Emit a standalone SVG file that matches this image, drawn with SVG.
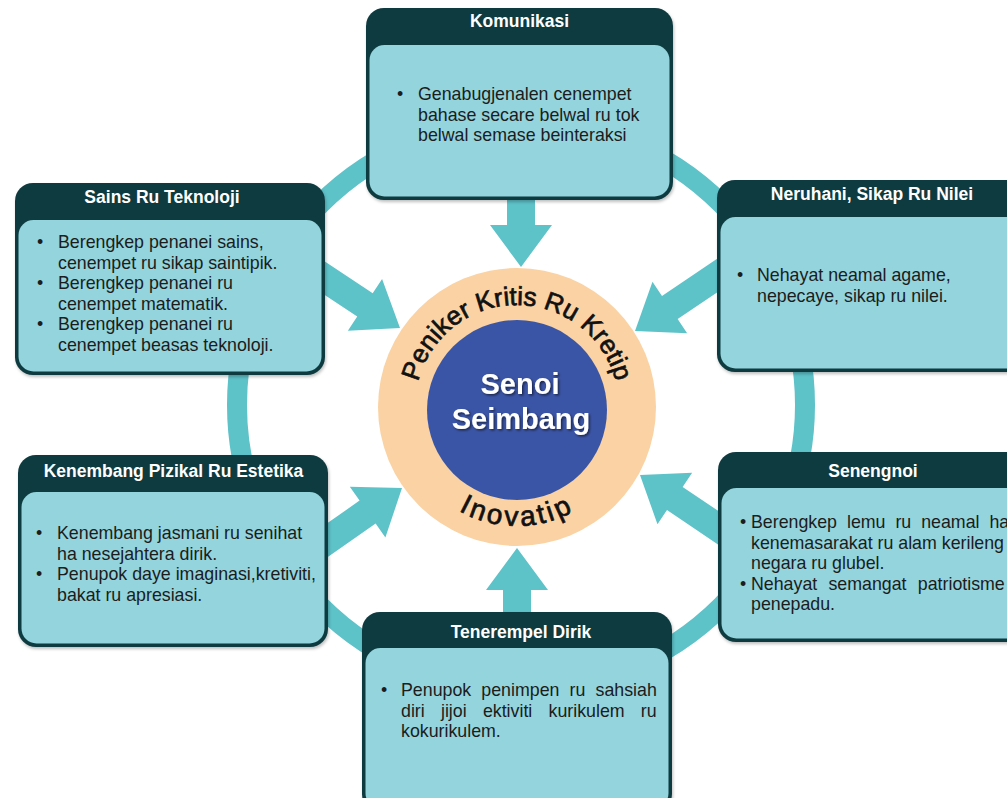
<svg xmlns="http://www.w3.org/2000/svg" width="1007" height="798" viewBox="0 0 1007 798">
  <defs>
    <style>
      .hdr { fill: #0f3a3f; }
      .bdy { fill: #93d4dd; }
      .teal { fill: #5ec2c9; }
      .ttl { font-family: "Liberation Sans", Arial, sans-serif; font-weight: bold; font-size: 17.5px; fill: #ffffff; text-anchor: middle; }
      .txt { font-family: "Liberation Sans", Arial, sans-serif; font-size: 17.8px; fill: #1c1c1c; }
      .arc { font-family: "Liberation Sans", Arial, sans-serif; fill: #111111; stroke: #111111; stroke-width: 0.7; }
      .ctr { font-family: "Liberation Sans", Arial, sans-serif; font-weight: bold; font-size: 29px; fill: #ffffff; text-anchor: middle; }
    </style>
    <path id="arrowShape" d="M 0 0 L -42 -31 L -42 -14 L -120 -14 L -120 14 L -42 14 L -42 31 Z"/>
    <path id="arcTop" d="M 415 407 A 102 102 0 0 1 619 407"/>
    <path id="arcBot" d="M 398 407 A 119 119 0 0 0 636 407"/>
    <filter id="boxShadow" x="-5%" y="-5%" width="112%" height="115%">
      <feDropShadow dx="1" dy="2" stdDeviation="1.5" flood-color="#000" flood-opacity="0.25"/>
    </filter>
    <filter id="txtShadow" x="-10%" y="-20%" width="130%" height="150%">
      <feDropShadow dx="1.5" dy="1.5" stdDeviation="1" flood-color="#000" flood-opacity="0.55"/>
    </filter>
  </defs>

  <rect x="0" y="0" width="1007" height="798" fill="#ffffff"/>

  <!-- connectors: ring and arrows -->
  <g id="connectors">
    <circle cx="521" cy="405" r="284" fill="none" stroke="#5ec2c9" stroke-width="20"/>
    <use href="#arrowShape" class="teal" transform="translate(521,267) rotate(90)"/>
    <use href="#arrowShape" class="teal" transform="translate(517,548) rotate(-90)"/>
    <use href="#arrowShape" class="teal" transform="translate(400,328) rotate(33.5)"/>
    <use href="#arrowShape" class="teal" transform="translate(635,331) rotate(146)"/>
    <use href="#arrowShape" class="teal" transform="translate(402,488) rotate(-35)"/>
    <use href="#arrowShape" class="teal" transform="translate(640,475) rotate(-146)"/>
  </g>

  <!-- center node -->
  <g id="center">
    <circle cx="517" cy="407" r="139" fill="#fad2a3"/>
    <circle cx="517" cy="410" r="90" fill="#3b55a6"/>
    <text class="arc" font-size="26"><textPath href="#arcTop" startOffset="50%" text-anchor="middle">Peniker Kritis Ru Kretip</textPath></text>
    <text class="arc" font-size="28" letter-spacing="3"><textPath href="#arcBot" startOffset="50%" text-anchor="middle">Inovatip</textPath></text>
    <g filter="url(#txtShadow)">
      <text class="ctr" x="520" y="394">Senoi</text>
      <text class="ctr" x="521" y="429">Seimbang</text>
    </g>
  </g>

  <!-- Komunikasi -->
  <g id="komunikasi">
    <rect class="hdr" x="366" y="8" width="307" height="192" rx="18" filter="url(#boxShadow)"/>
    <rect class="bdy" x="369.5" y="45" width="300" height="151.5" rx="15"/>
    <text class="ttl" x="519.5" y="27">Komunikasi</text>
    <text class="txt" x="397" y="100">•</text>
    <text class="txt" x="418" y="100">Genabugjenalen cenempet</text>
    <text class="txt" x="418" y="120.5">bahase secare belwal ru tok</text>
    <text class="txt" x="418" y="141">belwal semase beinteraksi</text>
  </g>

  <!-- Sains Ru Teknoloji -->
  <g id="sains">
    <rect class="hdr" x="15" y="183" width="310" height="192" rx="18" filter="url(#boxShadow)"/>
    <rect class="bdy" x="18.5" y="220" width="303" height="151.5" rx="15"/>
    <text class="ttl" x="162" y="203">Sains Ru Teknoloji</text>
    <text class="txt" x="37" y="248">•</text>
    <text class="txt" x="58" y="248">Berengkep penanei sains,</text>
    <text class="txt" x="58" y="268.5">cenempet ru sikap saintipik.</text>
    <text class="txt" x="37" y="289">•</text>
    <text class="txt" x="58" y="289">Berengkep penanei ru</text>
    <text class="txt" x="58" y="309.5">cenempet matematik.</text>
    <text class="txt" x="37" y="330">•</text>
    <text class="txt" x="58" y="330">Berengkep penanei ru</text>
    <text class="txt" x="58" y="350.5">cenempet beasas teknoloji.</text>
  </g>

  <!-- Neruhani, Sikap Ru Nilei -->
  <g id="neruhani">
    <rect class="hdr" x="717" y="180" width="313" height="192" rx="18" filter="url(#boxShadow)"/>
    <rect class="bdy" x="720.5" y="217" width="306" height="151.5" rx="15"/>
    <text class="ttl" x="872" y="200">Neruhani, Sikap Ru Nilei</text>
    <text class="txt" x="737" y="281">•</text>
    <text class="txt" x="757" y="281">Nehayat neamal agame,</text>
    <text class="txt" x="757" y="301.5">nepecaye, sikap ru nilei.</text>
  </g>

  <!-- Kenembang Pizikal Ru Estetika -->
  <g id="kenembang">
    <rect class="hdr" x="18" y="455" width="310" height="192" rx="18" filter="url(#boxShadow)"/>
    <rect class="bdy" x="21.5" y="492" width="303" height="151.5" rx="15"/>
    <text class="ttl" x="173.5" y="477">Kenembang Pizikal Ru Estetika</text>
    <text class="txt" x="36" y="539">•</text>
    <text class="txt" x="57" y="539">Kenembang jasmani ru senihat</text>
    <text class="txt" x="57" y="559.5">ha nesejahtera dirik.</text>
    <text class="txt" x="36" y="580">•</text>
    <text class="txt" x="57" y="580">Penupok daye imaginasi,kretiviti,</text>
    <text class="txt" x="57" y="600.5">bakat ru apresiasi.</text>
  </g>

  <!-- Senengnoi -->
  <g id="senengnoi">
    <rect class="hdr" x="718" y="452" width="312" height="190" rx="18" filter="url(#boxShadow)"/>
    <rect class="bdy" x="721.5" y="488" width="305" height="150.5" rx="15"/>
    <text class="ttl" x="873" y="477">Senengnoi</text>
    <text class="txt" x="740" y="528">•</text>
    <text class="txt" x="751" y="528" word-spacing="5">Berengkep lemu ru neamal ha</text>
    <text class="txt" x="751" y="548.5">kenemasarakat ru alam kerileng</text>
    <text class="txt" x="751" y="569">negara ru glubel.</text>
    <text class="txt" x="740" y="589.5">•</text>
    <text class="txt" x="751" y="589.5" word-spacing="6.3">Nehayat semangat patriotisme</text>
    <text class="txt" x="751" y="610">penepadu.</text>
  </g>

  <!-- Tenerempel Dirik -->
  <g id="tenerempel">
    <rect class="hdr" x="362" y="612" width="310" height="200" rx="18" filter="url(#boxShadow)"/>
    <rect class="bdy" x="365.5" y="648" width="303" height="160" rx="15"/>
    <text class="ttl" x="521" y="638">Tenerempel Dirik</text>
    <text class="txt" x="381" y="696">•</text>
    <text class="txt" x="401" y="696" word-spacing="5.2">Penupok penimpen ru sahsiah</text>
    <text class="txt" x="401" y="716.5" word-spacing="11.3">diri jijoi ektiviti kurikulem ru</text>
    <text class="txt" x="401" y="737">kokurikulem.</text>
  </g>
</svg>
